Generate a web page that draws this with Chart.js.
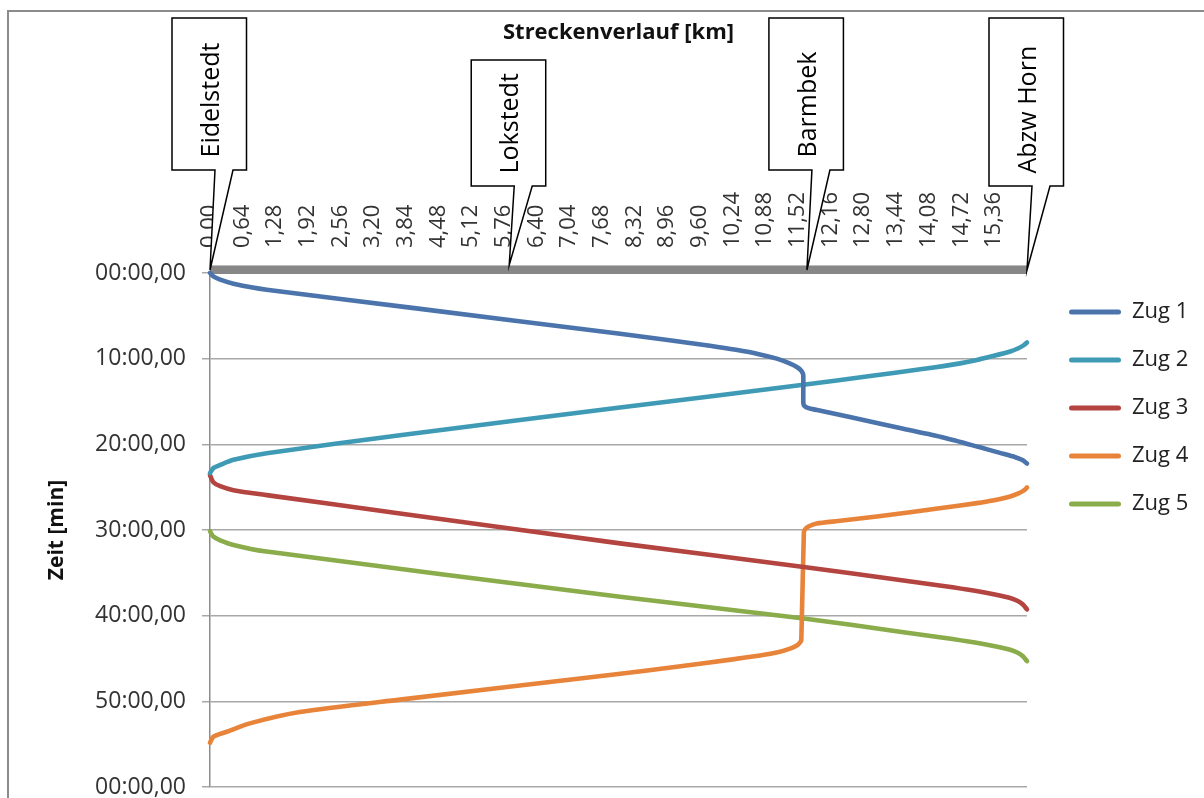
<!DOCTYPE html>
<html><head><meta charset="utf-8">
<script src="https://cdn.jsdelivr.net/npm/chart.js@4.4.1/dist/chart.umd.min.js"></script>
<style>html,body{margin:0;padding:0;background:#fff;}canvas{display:block;}</style>
</head><body>
<canvas id="c" width="1204" height="798"></canvas>
<script>
// ---------- data ----------
const seriesNames = ['Zug 1', 'Zug 2', 'Zug 3', 'Zug 4', 'Zug 5'];

const zug1Km  = [0, 0.065, 0.2, 0.46, 1.11, 4.0, 8.03, 9.0, 9.79, 10.3, 10.77, 11.1, 11.35, 11.5, 11.58, 11.615, 11.62, 11.62, 11.64, 11.72, 11.89, 12.53, 13.06, 13.51, 14.36, 15.08, 15.47, 15.77, 15.92, 16.0];
const zug1Min = [0, 0.4, 0.78, 1.25, 1.95, 4.1, 7.1, 7.85, 8.5, 8.97, 9.5, 10.0, 10.55, 11.0, 11.4, 11.8, 12.2, 15.19, 15.5, 15.78, 16.0, 16.8, 17.5, 18.1, 19.2, 20.35, 21.0, 21.5, 21.85, 22.25];

const zug2Km  = [16.0, 15.94, 15.82, 15.67, 15.33, 15.02, 14.69, 14.36, 13.91, 12.93, 11.62, 8.03, 3.72, 1.11, 0.46, 0.2, 0.065, 0];
const zug2Min = [8.11, 8.42, 8.81, 9.16, 9.70, 10.15, 10.55, 10.87, 11.24, 12.03, 13.05, 15.7, 18.93, 21.03, 21.8, 22.4, 22.78, 23.36];

const zug3Km  = [0, 0.065, 0.2, 0.46, 1.11, 3.72, 8.03, 11.59, 13.51, 14.36, 14.98, 15.37, 15.67, 15.82, 15.92, 16.0];
const zug3Min = [23.6, 24.42, 24.89, 25.36, 25.93, 28.07, 31.56, 34.28, 35.83, 36.53, 37.09, 37.52, 37.93, 38.28, 38.69, 39.27];

const zug4Km  = [16.0, 15.94, 15.82, 15.67, 15.33, 15.02, 14.36, 13.06, 12.3, 11.88, 11.72, 11.65, 11.63, 11.58, 11.56, 11.5, 11.36, 11.1, 10.77, 10.2, 9.14, 7.83, 3.72, 1.76, 0.78, 0.33, 0.065, 0];
const zug4Min = [25.04, 25.37, 25.76, 26.09, 26.55, 26.86, 27.41, 28.43, 28.95, 29.25, 29.6, 29.95, 30.3, 42.8, 43.1, 43.45, 43.85, 44.3, 44.64, 45.13, 45.96, 46.93, 49.8, 51.25, 52.57, 53.55, 54.13, 54.84];

const zug5Km  = [0, 0.065, 0.2, 0.46, 1.11, 8.03, 11.59, 13.51, 14.36, 14.98, 15.37, 15.67, 15.82, 15.92, 16.0];
const zug5Min = [30.15, 30.77, 31.2, 31.74, 32.52, 37.8, 40.3, 41.87, 42.57, 43.13, 43.56, 43.97, 44.32, 44.73, 45.31];

const xTickValues = [0, 0.64, 1.28, 1.92, 2.56, 3.2, 3.84, 4.48, 5.12, 5.76, 6.4, 7.04, 7.68, 8.32, 8.96, 9.6, 10.24, 10.88, 11.52, 12.16, 12.8, 13.44, 14.08, 14.72, 15.36, 16];
const xTickLabels = ['0,00','0,64','1,28','1,92','2,56','3,20','3,84','4,48','5,12','5,76','6,40','7,04','7,68','8,32','8,96','9,60','10,24','10,88','11,52','12,16','12,80','13,44','14,08','14,72','15,36',''];
const yTickValues = [0, 10, 20, 30, 40, 50, 60];
const yTickLabels = ['00:00,00','10:00,00','20:00,00','30:00,00','40:00,00','50:00,00','00:00,00'];

const stationNames = ['Eidelstedt', 'Lokstedt', 'Barmbek', 'Abzw Horn'];
const stationKm = [0, 5.86, 11.69, 16.0];

// ---------- styles ----------
const seriesColors = ['#4A74AB', '#3F9BB5', '#B4443F', '#E8843A', '#8AAC4B'];
const calloutGeom = [
  {top: 18, bottom: 170, tipY: 270},
  {top: 60, bottom: 186, tipY: 265},
  {top: 18, bottom: 170, tipY: 270},
  {top: 18, bottom: 186, tipY: 270}
];
const FONT = 'Open Sans';

const kmSeries = [zug1Km, zug2Km, zug3Km, zug4Km, zug5Km];
const minSeries = [zug1Min, zug2Min, zug3Min, zug4Min, zug5Min];

const decor = {
  id: 'decor',
  afterInit(chart) {
    const lg = chart.legend;
    if (lg) {
      const f = lg.fit;
      lg.fit = function () { f.call(this); this.width = 177; };
    }
  },
  afterLayout(chart) {
    const lg = chart.legend;
    if (lg) { lg.left += 16; lg.right += 16; lg.top += 2; lg.bottom += 2; }
  },
  beforeDraw(chart) {
    const ctx = chart.ctx;
    ctx.save();
    ctx.strokeStyle = '#8c8c8c';
    ctx.lineWidth = 2;
    ctx.beginPath();
    ctx.moveTo(8, 798); ctx.lineTo(8, 11); ctx.lineTo(1204, 11);
    ctx.stroke();
    ctx.restore();
  },
  beforeDatasetsDraw(chart) {
    const ctx = chart.ctx, xs = chart.scales.x, ys = chart.scales.y;
    const y0 = ys.getPixelForValue(0);
    ctx.save();
    ctx.fillStyle = '#878787';
    ctx.fillRect(xs.left, y0 - 7, xs.right - xs.left, 8);
    ctx.fillStyle = '#bdbdbd';
    ctx.fillRect(xs.left, y0 - 8, xs.right - xs.left, 1);
    ctx.restore();
  },
  afterDraw(chart) {
    const ctx = chart.ctx, xs = chart.scales.x;
    ctx.save();
    stationNames.forEach((name, i) => {
      const g = calloutGeom[i];
      const tx = xs.getPixelForValue(stationKm[i]);
      const L = tx - 38, R = tx + 36.5;
      ctx.beginPath();
      ctx.moveTo(L, g.top);
      ctx.lineTo(R, g.top);
      ctx.lineTo(R, g.bottom);
      ctx.lineTo(tx + 23, g.bottom);
      ctx.lineTo(tx, g.tipY);
      ctx.lineTo(tx + 5, g.bottom);
      ctx.lineTo(L, g.bottom);
      ctx.closePath();
      ctx.fillStyle = '#fff';
      ctx.fill();
      ctx.lineWidth = 1.5;
      ctx.strokeStyle = '#000';
      ctx.lineJoin = 'miter';
      ctx.stroke();
      ctx.save();
      ctx.translate(tx + 9, g.bottom - 12.5);
      ctx.rotate(-Math.PI / 2);
      ctx.font = '25px "' + FONT + '"';
      ctx.fillStyle = '#000';
      ctx.textAlign = 'left';
      ctx.textBaseline = 'alphabetic';
      ctx.fillText(name, 0, 0);
      ctx.restore();
    });
    ctx.restore();
  }
};

Chart.defaults.font.family = FONT;

new Chart(document.getElementById('c'), {
  type: 'line',
  data: {
    datasets: seriesNames.map((n, i) => ({
      label: n,
      data: kmSeries[i].map((x, j) => ({x: x, y: minSeries[i][j]})),
      borderColor: seriesColors[i],
      backgroundColor: seriesColors[i],
      borderWidth: 4.6,
      pointRadius: 0,
      tension: 0.25,
      borderCapStyle: 'round',
      borderJoinStyle: 'round',
      clip: false
    }))
  },
  options: {
    responsive: false,
    animation: false,
    devicePixelRatio: 1,
    events: [],
    layout: {padding: {left: 8, top: 11, right: 0, bottom: 11}},
    scales: {
      x: {
        type: 'linear', position: 'top', min: 0, max: 16,
        afterBuildTicks: s => { s.ticks = xTickValues.map(v => ({value: v})); },
        afterFit: s => { s.height = 262; s.paddingLeft = 0; s.paddingRight = 0; },
        grid: {display: false, drawTicks: false},
        border: {display: false},
        ticks: {
          autoSkip: false, minRotation: 90, maxRotation: 90, padding: 25, labelOffset: 26,
          color: '#333', font: {family: FONT, size: 22},
          callback: (v, i) => xTickLabels[i]
        },
        title: {
          display: true, text: 'Streckenverlauf [km]', color: '#111',
          font: {family: FONT, size: 22, weight: 'bold'}, padding: {top: 9, bottom: 0}
        }
      },
      y: {
        type: 'linear', position: 'left', reverse: true, min: 0, max: 60,
        afterBuildTicks: s => { s.ticks = yTickValues.map(v => ({value: v})); },
        afterFit: s => { s.width = 202; s.paddingTop = 0; s.paddingBottom = 0; },
        grid: {color: '#a8a8a8', lineWidth: 1.5, tickLength: 8, drawTicks: true},
        border: {color: '#8c8c8c', width: 1.5},
        ticks: {
          padding: 16, color: '#333', font: {family: FONT, size: 23},
          callback: (v, i) => yTickLabels[i]
        },
        title: {
          display: true, text: 'Zeit [min]', color: '#111',
          font: {family: FONT, size: 21, weight: 'bold'}, padding: {top: 36, bottom: 0}
        }
      }
    },
    plugins: {
      tooltip: {enabled: false},
      legend: {
        position: 'right', align: 'start', fullSize: false,
        labels: {
          boxWidth: 52, boxHeight: 5, padding: 26, color: '#222',
          font: {family: FONT, size: 22},
          useBorderRadius: true, borderRadius: 2.5,
          generateLabels: c => Chart.defaults.plugins.legend.labels.generateLabels(c).map(l => ({...l, lineWidth: 0}))
        }
      }
    }
  },
  plugins: [decor]
});
</script>
</body></html>
